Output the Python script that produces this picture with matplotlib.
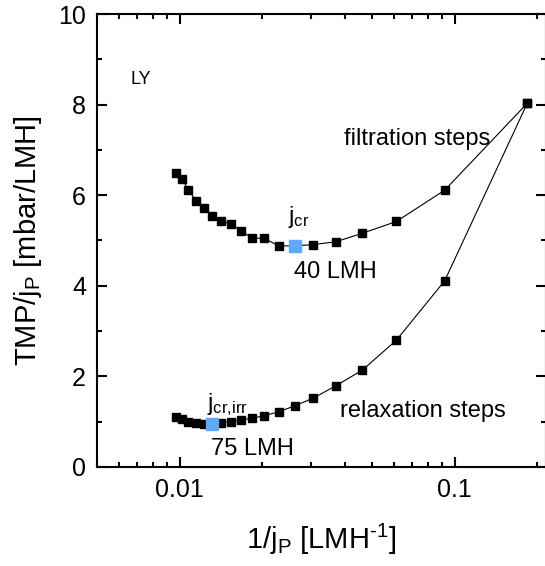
import numpy as np
import matplotlib.pyplot as plt
from matplotlib.ticker import MultipleLocator, LogLocator, NullFormatter, FixedLocator, FixedFormatter

plt.rcParams['font.family'] = ['Liberation Sans', 'DejaVu Sans']
plt.rcParams['mathtext.fontset'] = 'custom'
plt.rcParams['mathtext.rm'] = 'Liberation Sans'
plt.rcParams['mathtext.it'] = 'Liberation Sans:italic'

# 1/jP [LMH^-1], shared by both series
inv_flux = [0.00967, 0.01023, 0.01076, 0.01146, 0.01226, 0.01315, 0.01418,
            0.01533, 0.01675, 0.01837, 0.02025, 0.02296, 0.0262, 0.0306,
            0.0369, 0.0462, 0.0614, 0.092, 0.1838]

# TMP/jP [mbar/LMH]
filtration = [6.50, 6.35, 6.11, 5.88, 5.71, 5.54, 5.43, 5.36, 5.21, 5.05,
              5.05, 4.88, 4.88, 4.91, 4.97, 5.16, 5.42, 6.11, 8.03]
relaxation = [1.10, 1.05, 1.00, 0.97, 0.94, 0.94, 0.98, 1.00, 1.04, 1.08,
              1.13, 1.22, 1.35, 1.52, 1.79, 2.14, 2.80, 4.11, 8.03]

# critical flux points
jcr_x, jcr_y = 0.0262, 4.88
jcrirr_x, jcrirr_y = 0.01315, 0.94

fig = plt.figure(figsize=(5.45, 5.66), dpi=100, facecolor='white')
ax = fig.add_axes([97 / 545, 99 / 566, 449 / 545, 453 / 566])

ax.plot(inv_flux, filtration, color='black', lw=0.8, marker='s', ms=6,
        mec='black', mfc='black')
ax.plot(inv_flux, relaxation, color='black', lw=0.8, marker='s', ms=6,
        mec='black', mfc='black')
ax.plot([jcr_x, jcrirr_x], [jcr_y, jcrirr_y], ls='none', marker='s', ms=9,
        mfc='#5fa9f6', mec='#5fa9f6', zorder=5)

ax.set_xscale('log')
ax.set_xlim(0.005, 0.215)
ax.set_ylim(0, 10)

ax.xaxis.set_major_locator(FixedLocator([0.01, 0.1]))
ax.xaxis.set_major_formatter(FixedFormatter(['0.01', '0.1']))
ax.xaxis.set_minor_locator(LogLocator(base=10, subs=np.arange(2, 10)))
ax.xaxis.set_minor_formatter(NullFormatter())
ax.yaxis.set_major_locator(MultipleLocator(2))
ax.yaxis.set_minor_locator(MultipleLocator(1))

for s in ax.spines.values():
    s.set_linewidth(1.5)
ax.tick_params(which='both', direction='in', top=True, right=True, width=1.5)
ax.tick_params(which='major', length=7, labelsize=18)
ax.tick_params(which='minor', length=3.5)
ax.tick_params(axis='x', pad=8)
ax.tick_params(axis='y', pad=8)

ax.set_xlabel(r'1/j$_\mathrm{P}$ [LMH$^\mathrm{\text{-}1}$]', fontsize=21, labelpad=14)
ax.set_ylabel(r'TMP/j$_\mathrm{P}$ [mbar/LMH]', fontsize=21, labelpad=10)

ax.text(0.0066, 8.45, 'LY', fontsize=13)
ax.text(0.0395, 7.11, 'filtration steps', fontsize=17)
ax.text(0.0382, 1.11, 'relaxation steps', fontsize=17)
ax.text(0.0247, 5.39, r'j$_\mathrm{cr}$', fontsize=17)
ax.text(0.02597, 4.17, '40 LMH', fontsize=17)
ax.text(0.01261, 1.26, r'j$_\mathrm{cr{,}irr}$', fontsize=17)
ax.text(0.01296, 0.265, '75 LMH', fontsize=17)

fig.savefig('out.png', dpi=100, facecolor='white')
